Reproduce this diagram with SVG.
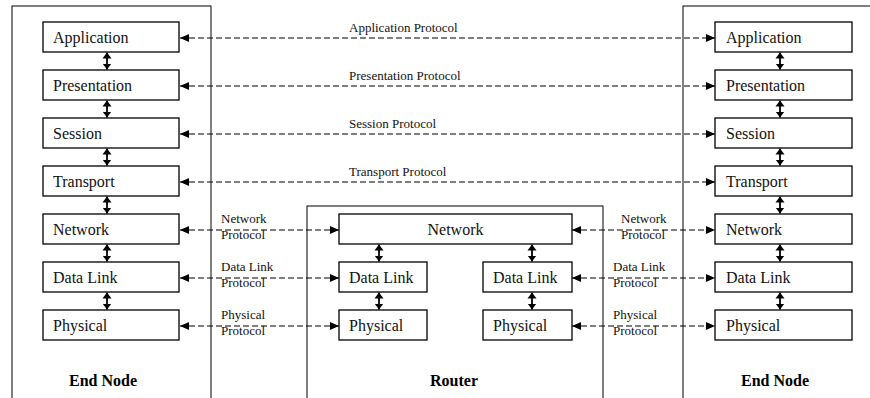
<svg xmlns="http://www.w3.org/2000/svg" width="870" height="398" viewBox="0 0 870 398">
<defs>
<style>
.outer{fill:none;stroke:#000;stroke-width:1}
.box{fill:#fff;stroke:#000;stroke-width:1.3}
.t{font-size:16px;fill:#111}
.lbl{font-size:13px;fill:#111}
.title{font-size:16px;font-weight:bold;fill:#000;text-anchor:middle}
.h{stroke:#000;stroke-width:1.2;stroke-dasharray:6,3;fill:none;marker-start:url(#ah);marker-end:url(#ah)}
.v{stroke:#000;stroke-width:1.8;fill:none;marker-start:url(#av);marker-end:url(#av)}
</style>
<marker id="ah" markerUnits="userSpaceOnUse" markerWidth="10" markerHeight="8" refX="9" refY="4" orient="auto-start-reverse">
<path d="M0,0 L9,4 L0,8 z" fill="#000"/>
</marker>
<marker id="av" markerUnits="userSpaceOnUse" markerWidth="7" markerHeight="10" refX="6" refY="5" orient="auto-start-reverse">
<path d="M0,0.5 L6,5 L0,9.5 z" fill="#000"/>
</marker>
</defs>
<rect width="870" height="398" fill="#fff"/>
<g font-family="Liberation Serif, DejaVu Serif, serif">
<g id="endnode-left">
<rect class="outer" x="12" y="6" width="199" height="420"/>
<text class="title" x="103" y="386">End Node</text>
</g>
<g id="endnode-right">
<rect class="outer" x="683" y="6" width="220" height="420"/>
<text class="title" x="775" y="386">End Node</text>
</g>
<g id="router">
<rect class="outer" x="307" y="206" width="296" height="220"/>
<text class="title" x="454" y="386">Router</text>
</g>

<g id="l-app"><rect class="box" x="43" y="22" width="136" height="30"/><text class="t" x="53" y="43">Application</text></g>
<g id="l-pres"><rect class="box" x="43" y="70" width="136" height="30"/><text class="t" x="53" y="91">Presentation</text></g>
<g id="l-sess"><rect class="box" x="43" y="118" width="136" height="30"/><text class="t" x="53" y="139">Session</text></g>
<g id="l-trans"><rect class="box" x="43" y="166" width="136" height="30"/><text class="t" x="53" y="187">Transport</text></g>
<g id="l-net"><rect class="box" x="43" y="214" width="136" height="30"/><text class="t" x="53" y="235">Network</text></g>
<g id="l-dl"><rect class="box" x="43" y="262" width="136" height="30"/><text class="t" x="53" y="283">Data Link</text></g>
<g id="l-phy"><rect class="box" x="43" y="310" width="136" height="30"/><text class="t" x="53" y="331">Physical</text></g>

<g id="r-app"><rect class="box" x="715" y="22" width="137" height="30"/><text class="t" x="726" y="43">Application</text></g>
<g id="r-pres"><rect class="box" x="715" y="70" width="137" height="30"/><text class="t" x="726" y="91">Presentation</text></g>
<g id="r-sess"><rect class="box" x="715" y="118" width="137" height="30"/><text class="t" x="726" y="139">Session</text></g>
<g id="r-trans"><rect class="box" x="715" y="166" width="137" height="30"/><text class="t" x="726" y="187">Transport</text></g>
<g id="r-net"><rect class="box" x="715" y="214" width="137" height="30"/><text class="t" x="726" y="235">Network</text></g>
<g id="r-dl"><rect class="box" x="715" y="262" width="137" height="30"/><text class="t" x="726" y="283">Data Link</text></g>
<g id="r-phy"><rect class="box" x="715" y="310" width="137" height="30"/><text class="t" x="726" y="331">Physical</text></g>

<g id="rt-net"><rect class="box" x="339" y="214" width="233" height="30"/><text class="t" x="455.5" y="235" text-anchor="middle">Network</text></g>
<g id="rt-dl1"><rect class="box" x="339" y="262" width="88" height="30"/><text class="t" x="349" y="283">Data Link</text></g>
<g id="rt-phy1"><rect class="box" x="339" y="310" width="88" height="30"/><text class="t" x="349" y="331">Physical</text></g>
<g id="rt-dl2"><rect class="box" x="483" y="262" width="89" height="30"/><text class="t" x="493" y="283">Data Link</text></g>
<g id="rt-phy2"><rect class="box" x="483" y="310" width="89" height="30"/><text class="t" x="493" y="331">Physical</text></g>

<g id="connectors">
<line class="h" x1="180" y1="38" x2="715" y2="38"/>
<line class="h" x1="180" y1="86" x2="715" y2="86"/>
<line class="h" x1="180" y1="134" x2="715" y2="134"/>
<line class="h" x1="180" y1="182" x2="715" y2="182"/>
<line class="h" x1="180" y1="230" x2="339" y2="230"/>
<line class="h" x1="180" y1="278" x2="339" y2="278"/>
<line class="h" x1="180" y1="326" x2="339" y2="326"/>
<line class="h" x1="572" y1="230" x2="715" y2="230"/>
<line class="h" x1="572" y1="278" x2="715" y2="278"/>
<line class="h" x1="572" y1="326" x2="715" y2="326"/>

<line class="v" x1="107" y1="52.5" x2="107" y2="69.5"/>
<line class="v" x1="107" y1="100.5" x2="107" y2="117.5"/>
<line class="v" x1="107" y1="148.5" x2="107" y2="165.5"/>
<line class="v" x1="107" y1="196.5" x2="107" y2="213.5"/>
<line class="v" x1="107" y1="244.5" x2="107" y2="261.5"/>
<line class="v" x1="107" y1="292.5" x2="107" y2="309.5"/>

<line class="v" x1="780" y1="52.5" x2="780" y2="69.5"/>
<line class="v" x1="780" y1="100.5" x2="780" y2="117.5"/>
<line class="v" x1="780" y1="148.5" x2="780" y2="165.5"/>
<line class="v" x1="780" y1="196.5" x2="780" y2="213.5"/>
<line class="v" x1="780" y1="244.5" x2="780" y2="261.5"/>
<line class="v" x1="780" y1="292.5" x2="780" y2="309.5"/>

<line class="v" x1="379" y1="244.5" x2="379" y2="261.5"/>
<line class="v" x1="379" y1="292.5" x2="379" y2="309.5"/>
<line class="v" x1="532" y1="244.5" x2="532" y2="261.5"/>
<line class="v" x1="532" y1="292.5" x2="532" y2="309.5"/>

<text class="lbl" x="349" y="31.5">Application Protocol</text>
<text class="lbl" x="349" y="79.5">Presentation Protocol</text>
<text class="lbl" x="349" y="127.5">Session Protocol</text>
<text class="lbl" x="349" y="175.5">Transport Protocol</text>

<text class="lbl" x="221" y="223">Network</text>
<text class="lbl" x="221" y="239">Protocol</text>
<text class="lbl" x="221" y="271">Data Link</text>
<text class="lbl" x="221" y="287">Protocol</text>
<text class="lbl" x="221" y="319">Physical</text>
<text class="lbl" x="221" y="335">Protocol</text>

<text class="lbl" x="621" y="223">Network</text>
<text class="lbl" x="621" y="239">Protocol</text>
<text class="lbl" x="613" y="271">Data Link</text>
<text class="lbl" x="613" y="287">Protocol</text>
<text class="lbl" x="613" y="319">Physical</text>
<text class="lbl" x="613" y="335">Protocol</text>
</g>
</g>
</svg>
